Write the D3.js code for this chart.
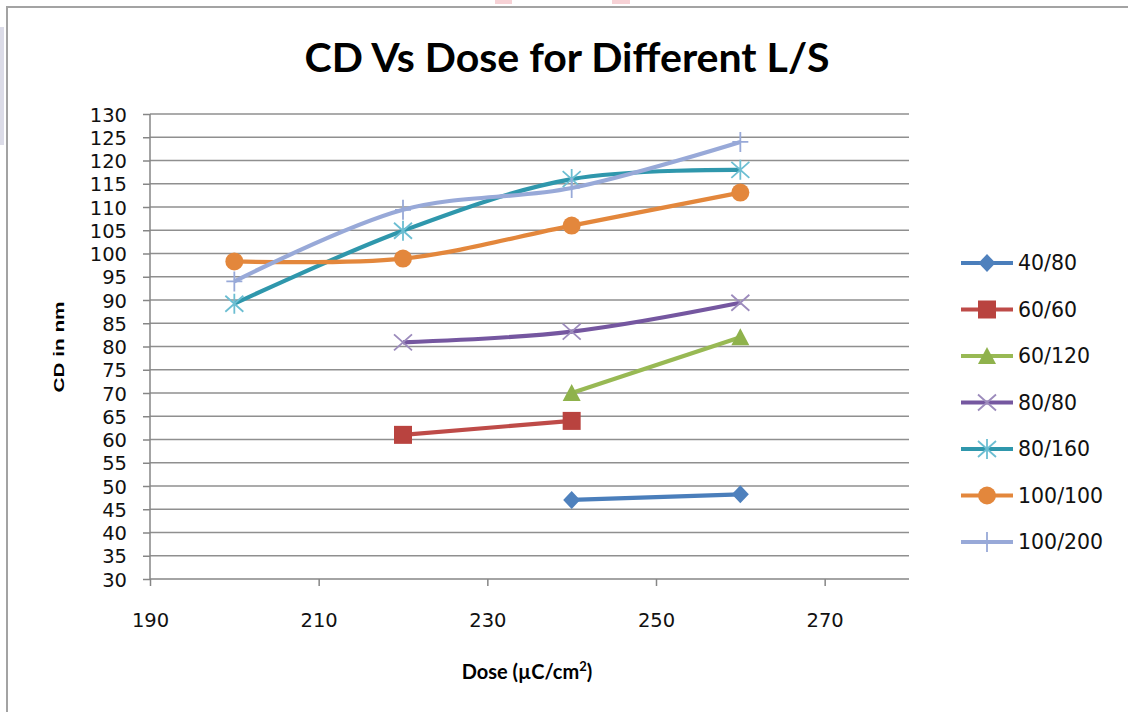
<!DOCTYPE html>
<html>
<head>
<meta charset="utf-8">
<script src="https://cdn.jsdelivr.net/npm/d3@7"></script>
<style>
html,body{margin:0;padding:0;background:#fff;overflow:hidden;}
svg{display:block;}
</style>
</head>
<body>
<svg id="chart" width="1128" height="712"></svg>
<script>
// ---- data ----
const seriesNames = ["40/80","60/60","60/120","80/80","80/160","100/100","100/200"];
const dose_40_80   = [240, 260];
const cd_40_80     = [47, 48.2];
const dose_60_60   = [220, 240];
const cd_60_60     = [61, 64];
const dose_60_120  = [240, 260];
const cd_60_120    = [70, 82];
const dose_80_80   = [220, 240, 260];
const cd_80_80     = [80.9, 83.2, 89.4];
const dose_80_160  = [200, 220, 240, 260];
const cd_80_160    = [89.2, 104.9, 116, 118];
const dose_100_100 = [200, 220, 240, 260];
const cd_100_100   = [98.3, 98.9, 106, 113.1];
const dose_100_200 = [200, 220, 240, 260];
const cd_100_200   = [94, 109.4, 114.1, 124];
const xTicks = [190, 210, 230, 250, 270];
const yTicks = d3.range(30, 131, 5);

const series = [
  {name:seriesNames[0], x:dose_40_80,   y:cd_40_80,   line:"#4A7EBB", fill:"#4F81BD", marker:"diamond"},
  {name:seriesNames[1], x:dose_60_60,   y:cd_60_60,   line:"#BE4B48", fill:"#B9433F", marker:"square"},
  {name:seriesNames[2], x:dose_60_120,  y:cd_60_120,  line:"#98B954", fill:"#8FB24C", marker:"triangle"},
  {name:seriesNames[3], x:dose_80_80,   y:cd_80_80,   line:"#7557A0", fill:"#9C8BBC", marker:"x"},
  {name:seriesNames[4], x:dose_80_160,  y:cd_80_160,  line:"#2F97AC", fill:"#6CBED2", marker:"star"},
  {name:seriesNames[5], x:dose_100_100, y:cd_100_100, line:"#E3873C", fill:"#E3873C", marker:"circle"},
  {name:seriesNames[6], x:dose_100_200, y:cd_100_200, line:"#98A9D8", fill:"#98A9D8", marker:"plus"}
];

const svg = d3.select("#chart");

// artifacts / frame
svg.append("rect").attr("x",0).attr("y",27).attr("width",4).attr("height",118).attr("fill","#dcdce8");
svg.append("rect").attr("x",495).attr("y",0).attr("width",17).attr("height",4).attr("fill","#f7d2d6");
svg.append("rect").attr("x",612).attr("y",0).attr("width",18).attr("height",4).attr("fill","#f7d2d6");
svg.append("rect").attr("x",7).attr("y",7).attr("width",1140).attr("height",730)
  .attr("fill","#fff").attr("stroke","#a3a3a3").attr("stroke-width",2);

const x = d3.scaleLinear().domain([190, 280]).range([150, 909]);
const y = d3.scaleLinear().domain([30, 130]).range([579, 114]);

// gridlines
svg.append("g").selectAll("line").data(yTicks.filter(d=>d>30)).join("line")
  .attr("x1",150).attr("x2",909).attr("y1",d=>y(d)).attr("y2",d=>y(d))
  .attr("stroke","#8f8f8f").attr("stroke-width",1.5);

// axes
const yAxis = d3.axisLeft(y).tickValues(yTicks).tickSize(7).tickPadding(16);
const gy = svg.append("g").attr("transform","translate(150,0)").call(yAxis);
const xAxis = d3.axisBottom(x).tickValues(xTicks).tickSize(7).tickPadding(27);
const gx = svg.append("g").attr("transform","translate(0,579)").call(xAxis);
[gx, gy].forEach(g=>{
  g.select(".domain").attr("stroke","#868686").attr("stroke-width",1.5);
  g.selectAll(".tick line").attr("stroke","#868686").attr("stroke-width",1.5);
  g.selectAll(".tick text").attr("font-family","DejaVu Sans, Verdana, sans-serif")
    .attr("font-size",19.5).attr("fill","#111");
});
gx.select(".domain").attr("d","M150,0H909");
gy.select(".domain").attr("d","M0,579V114");
gy.selectAll(".tick text").attr("dy","0.36em");

// marker paths
function markerPath(type){
  switch(type){
    case "diamond": return "M0,-9L8.5,0L0,9L-8.5,0Z";
    case "square": return "M-9,-9H9V9H-9Z";
    case "triangle": return "M0,-9L9,8H-9Z";
    case "circle": return d3.symbol(d3.symbolCircle, Math.PI*9*9)();
    case "x": return "M-9,-8L9,8M-9,8L9,-8";
    case "star": return "M-9,-8L9,8M-9,8L9,-8M0,-10V10";
    case "plus": return "M0,-10V10M-8,0H8";
  }
}
function drawMarker(g, s, cx, cy){
  const p = g.append("path").attr("d", markerPath(s.marker))
    .attr("transform",`translate(${cx},${cy})`);
  if (["x","star","plus"].includes(s.marker)) {
    p.attr("fill","none").attr("stroke",s.fill).attr("stroke-width",1.8);
  } else {
    p.attr("fill",s.fill).attr("stroke","none");
  }
}

const line = d3.line().x(d=>x(d[0])).y(d=>y(d[1])).curve(d3.curveCatmullRom.alpha(0.5));
const plot = svg.append("g");
series.forEach(s=>{
  const pts = s.x.map((v,i)=>[v, s.y[i]]);
  const g = plot.append("g");
  g.append("path").attr("d", line(pts)).attr("fill","none")
    .attr("stroke", s.line).attr("stroke-width",4.2).attr("stroke-linejoin","round");
  pts.forEach(p=>drawMarker(g, s, x(p[0]), y(p[1])));
});

// legend
const leg = svg.append("g");
const legY = d3.scalePoint().domain(seriesNames).range([263, 542]);
series.forEach(s=>{
  const yy = legY(s.name);
  const g = leg.append("g");
  g.append("line").attr("x1",961).attr("x2",1013).attr("y1",yy).attr("y2",yy)
    .attr("stroke",s.line).attr("stroke-width",4.2);
  drawMarker(g, s, 987, yy);
  g.append("text").attr("x",1018).attr("y",yy).attr("dy","0.36em")
    .attr("font-family","DejaVu Sans, Verdana, sans-serif").attr("font-size",20.5)
    .attr("fill","#111").text(s.name);
});

// titles
svg.append("text").attr("x",567).attr("y",72).attr("text-anchor","middle")
  .attr("font-family","Lato, 'Open Sans', sans-serif").attr("font-weight","bold")
  .attr("font-size",41).attr("fill","#000")
  .attr("textLength",525).attr("lengthAdjust","spacingAndGlyphs")
  .text("CD Vs Dose for Different L/S");

svg.append("text").attr("transform","translate(64,347) rotate(-90)")
  .attr("text-anchor","middle")
  .attr("font-family","'Liberation Sans', Arial, sans-serif").attr("font-weight","bold")
  .attr("font-size",15).attr("fill","#000")
  .attr("textLength",91).attr("lengthAdjust","spacingAndGlyphs")
  .text("CD in nm");

const xt = svg.append("text").attr("x",527).attr("y",679).attr("text-anchor","middle")
  .attr("font-family","Lato, 'Open Sans', sans-serif").attr("font-weight","bold")
  .attr("font-size",20).attr("fill","#000");
xt.append("tspan").text("Dose (µC/cm");
xt.append("tspan").attr("dy",-8).attr("font-size",13).text("2");
xt.append("tspan").attr("dy",8).text(")");
</script>
</body>
</html>
